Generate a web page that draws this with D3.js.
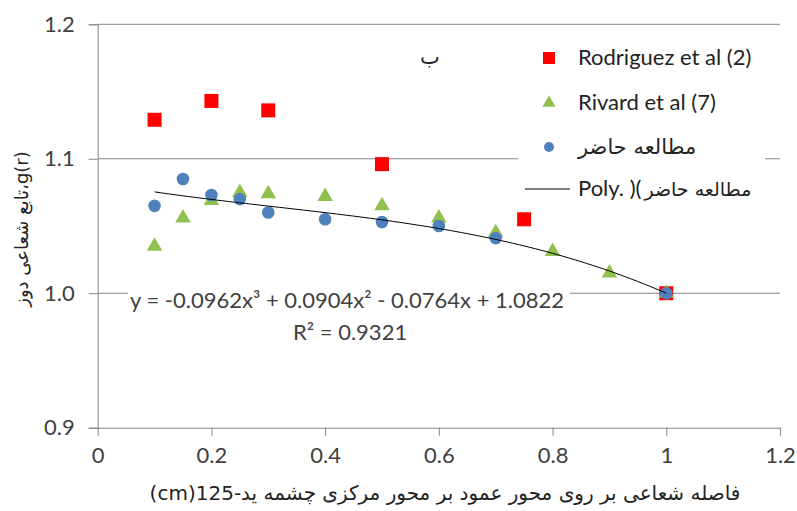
<!DOCTYPE html>
<html>
<head>
<meta charset="utf-8">
<script src="https://cdn.jsdelivr.net/npm/d3@7"></script>
<style>
  body { margin: 0; background: #fff; }
  svg { display: block; }
  .tick text { font-family: Lato, "Open Sans", sans-serif; font-size: 22px; fill: #404040; }
  .fa { font-family: "DejaVu Sans", sans-serif; fill: #222; }
</style>
</head>
<body>
<svg width="797" height="511"></svg>
<script>
const svg = d3.select("svg");

// data
const rodX = [0.1, 0.2, 0.3, 0.5, 0.75, 1.0];
const rodY = [1.129, 1.143, 1.136, 1.096, 1.055, 1.0];

const rivX = [0.1, 0.15, 0.2, 0.25, 0.3, 0.4, 0.5, 0.6, 0.7, 0.8, 0.9, 1.0];
const rivY = [1.035, 1.056, 1.069, 1.075, 1.074, 1.072, 1.065, 1.056, 1.045, 1.031, 1.015, 1.0];

const curX = [0.1, 0.15, 0.2, 0.25, 0.3, 0.4, 0.5, 0.6, 0.7, 1.0];
const curY = [1.065, 1.085, 1.073, 1.070, 1.060, 1.055, 1.053, 1.050, 1.041, 1.0];

// trendline shown on the chart: y = -0.0962x^3 + 0.0904x^2 - 0.0764x + 1.0822
const trendCoef = [-0.0962, 0.0904, -0.0764, 1.0822];
const trendRange = [0.1, 1.0];

const xTicks = [0, 0.2, 0.4, 0.6, 0.8, 1, 1.2];
const yTicks = [0.9, 1.0, 1.1, 1.2];

const x = d3.scaleLinear().domain([0, 1.2]).range([97.7, 780]);
const y = d3.scaleLinear().domain([0.9, 1.2]).range([427.7, 24.3]);

const gray = "#868686";

// gridlines
svg.append("g")
  .selectAll("line")
  .data(yTicks.filter(d => d > 0.9))
  .enter().append("line")
  .attr("x1", x(0)).attr("x2", x(1.2))
  .attr("y1", d => y(d)).attr("y2", d => y(d))
  .attr("stroke", gray).attr("stroke-width", 1);

// y axis
const yAxis = svg.append("g")
  .attr("transform", `translate(${x(0)},0)`)
  .call(d3.axisLeft(y).tickValues(yTicks).tickSize(9).tickPadding(14).tickFormat(d3.format(".1f")));
yAxis.select(".domain").attr("stroke", gray);
yAxis.selectAll(".tick line").attr("stroke", gray);

// x axis
const xAxis = svg.append("g")
  .attr("transform", `translate(0,${y(0.9)})`)
  .call(d3.axisBottom(x).tickValues(xTicks).tickSize(8).tickPadding(12).tickSizeOuter(0)
    .tickFormat(d => String(d)));
xAxis.select(".domain").attr("stroke", gray);
xAxis.selectAll(".tick line").attr("stroke", gray);

// legend box and equation label cover the gridlines
svg.append("rect").attr("x", 518).attr("y", 36).attr("width", 247).attr("height", 170).attr("fill", "#fff");
svg.append("rect").attr("x", 128).attr("y", 286).attr("width", 442).attr("height", 56).attr("fill", "#fff");

const red = "#ff0000", green = "#92c04e", blue = "#4f81bd";

svg.append("g").selectAll("rect")
  .data(rodX.map((d, i) => [d, rodY[i]]))
  .enter().append("rect")
  .attr("x", d => x(d[0]) - 7).attr("y", d => y(d[1]) - 7)
  .attr("width", 14).attr("height", 14)
  .attr("fill", red);

const tri = d3.symbol().type(d3.symbolTriangle).size(105);
svg.append("g").selectAll("path")
  .data(rivX.map((d, i) => [d, rivY[i]]))
  .enter().append("path")
  .attr("d", tri)
  .attr("transform", d => `translate(${x(d[0])},${y(d[1])})`)
  .attr("fill", green);

svg.append("g").selectAll("circle")
  .data(curX.map((d, i) => [d, curY[i]]))
  .enter().append("circle")
  .attr("cx", d => x(d[0])).attr("cy", d => y(d[1]))
  .attr("r", 6.3)
  .attr("fill", blue);

// trendline
const poly = t => trendCoef.reduce((acc, c) => acc * t + c, 0);
const trendPts = d3.range(trendRange[0], trendRange[1] + 0.0001, 0.01).map(t => [t, poly(t)]);
svg.append("path")
  .datum(trendPts)
  .attr("fill", "none")
  .attr("stroke", "#000")
  .attr("stroke-width", 1)
  .attr("d", d3.line().x(d => x(d[0])).y(d => y(d[1])));

// equation
const latin = "Lato, 'Open Sans', sans-serif";
svg.append("text")
  .attr("x", 130).attr("y", 308)
  .attr("font-family", latin).attr("font-size", 22).attr("fill", "#404040")
  .text("y = -0.0962x³ + 0.0904x² - 0.0764x + 1.0822");
svg.append("text")
  .attr("x", 293).attr("y", 340)
  .attr("font-family", latin).attr("font-size", 22).attr("fill", "#404040")
  .text("R² = 0.9321");

// panel letter
svg.append("text").attr("class", "fa")
  .attr("x", 430).attr("y", 64).attr("font-size", 21).attr("text-anchor", "middle")
  .text("ب");

// legend
const legend = [
  { label: "Rodriguez et al (2)", fa: "", y: 58, kind: "square" },
  { label: "Rivard et al (7)", fa: "", y: 103, kind: "triangle" },
  { label: "", fa: "مطالعه حاضر", y: 147, kind: "circle" },
  { label: "Poly. )(", fa: "مطالعه حاضر", y: 189, kind: "line" }
];
const lg = svg.append("g");
legend.forEach(d => {
  if (d.kind === "square") {
    lg.append("rect").attr("x", 543).attr("y", d.y - 6).attr("width", 12).attr("height", 12).attr("fill", red);
  } else if (d.kind === "triangle") {
    lg.append("path").attr("d", d3.symbol().type(d3.symbolTriangle).size(75))
      .attr("transform", `translate(549,${d.y})`).attr("fill", green);
  } else if (d.kind === "circle") {
    lg.append("circle").attr("cx", 549).attr("cy", d.y).attr("r", 5).attr("fill", blue);
  } else {
    lg.append("line").attr("x1", 525).attr("x2", 570).attr("y1", d.y).attr("y2", d.y)
      .attr("stroke", "#000").attr("stroke-width", 1);
  }
  let xPos = 578;
  if (d.label) {
    const t = lg.append("text")
      .attr("x", xPos).attr("y", d.y + 7)
      .attr("font-family", latin).attr("font-size", 22)
      .attr("fill", "#222")
      .text(d.label);
    xPos += t.node().getComputedTextLength() + 3;
  }
  if (d.fa) {
    lg.append("text").attr("class", "fa")
      .attr("x", xPos).attr("y", d.y + 7)
      .attr("font-size", d.label ? 19 : 21)
      .text(d.fa);
  }
});

// axis titles
svg.append("text").attr("class", "fa")
  .attr("transform", "translate(28,229) rotate(-90)")
  .attr("text-anchor", "middle").attr("font-size", 18)
  .text("تابع شعاعی دوز،g(r)");

svg.append("text").attr("class", "fa")
  .attr("x", 445).attr("y", 500)
  .attr("direction", "rtl")
  .attr("text-anchor", "middle").attr("font-size", 20)
  .text("فاصله شعاعی بر روی محور عمود بر محور مرکزی چشمه ید-125(cm)");
</script>
</body>
</html>
